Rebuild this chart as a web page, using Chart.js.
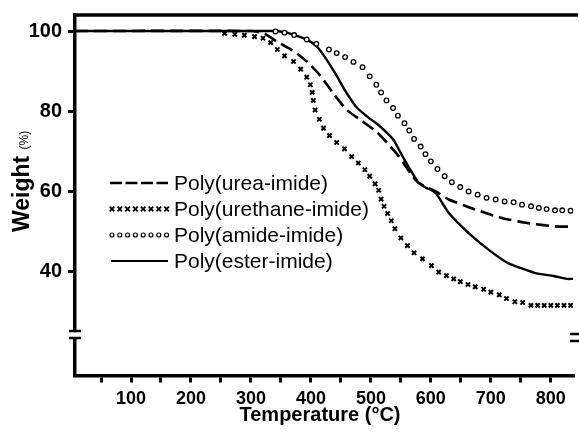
<!DOCTYPE html>
<html>
<head>
<meta charset="utf-8">
<script src="https://cdn.jsdelivr.net/npm/chart.js@4.4.1/dist/chart.umd.min.js"></script>
<style>
  html, body { margin: 0; padding: 0; background: #fff; overflow: hidden; }
  canvas { display: block; }
</style>
</head>
<body>
<canvas id="tga" width="579" height="433"></canvas>
<script>
// Series names (legend order)
const seriesNames = ['Poly(urea-imide)', 'Poly(urethane-imide)', 'Poly(amide-imide)', 'Poly(ester-imide)'];

// Poly(urea-imide) - dashed line
const ureaT = [7, 300, 322, 344, 372, 394, 416, 438, 460, 482, 509, 531, 547, 569, 580, 608, 630, 674, 718, 762, 806, 837];
const ureaW = [100, 100, 99.4, 97.3, 94.9, 92.3, 88.8, 84.3, 80.3, 77.9, 74.9, 71.5, 68.7, 63.9, 62.1, 60.0, 58.0, 55.5, 53.4, 52.1, 51.3, 51.2];

// Poly(urethane-imide) - crosses
const urethT = [256, 273, 289, 306, 320, 333, 344, 356, 371, 383, 393, 399, 402, 404, 407, 414, 421, 431, 443, 456, 468, 479, 490, 498, 507, 513, 517, 522, 528, 534, 540, 550, 561, 572, 586, 601, 613, 626, 638, 649, 662, 674, 688, 700, 714, 726, 740, 753, 767, 778, 789, 800, 811, 822, 833];
const urethW = [99.4, 99.2, 99.0, 98.6, 98.2, 97.1, 95.4, 93.8, 92.4, 90.5, 88.5, 86.6, 84.7, 82.7, 80.3, 78.0, 75.8, 73.9, 72.2, 70.6, 68.7, 67.1, 65.4, 63.8, 61.9, 60.3, 58.1, 56.3, 54.5, 52.7, 50.7, 48.4, 46.5, 44.7, 43.2, 41.5, 39.9, 39.0, 38.2, 37.5, 36.8, 36.2, 35.6, 34.9, 34.2, 33.3, 32.5, 32.3, 31.6, 31.6, 31.6, 31.6, 31.6, 31.6, 31.6];

// Poly(amide-imide) - circles
const amideT = [341, 356, 372, 393, 409, 430, 443, 457, 471, 486, 498, 509, 517, 526, 537, 545, 556, 564, 572, 583, 591, 600, 611, 623, 635, 649, 663, 678, 693, 708, 723, 738, 752, 767, 780, 793, 807, 819, 833];
const amideW = [99.9, 99.6, 99.0, 97.9, 96.8, 95.4, 94.5, 93.5, 92.3, 91.0, 88.7, 86.6, 84.7, 82.7, 80.8, 78.9, 77.0, 75.2, 73.1, 71.2, 69.3, 67.5, 65.6, 63.8, 62.3, 61.1, 60.0, 59.2, 58.4, 58.0, 57.5, 57.3, 56.7, 56.3, 55.9, 55.6, 55.3, 55.3, 55.2];

// Poly(ester-imide) - solid line
const esterT = [7, 340, 360, 372, 394, 410, 421, 432, 443, 454, 465, 476, 497, 509, 520, 537, 553, 569, 580, 591, 608, 630, 663, 696, 728, 773, 805, 827, 837];
const esterW = [100, 100, 99.6, 99.0, 97.8, 96.1, 94.0, 91.5, 88.8, 85.9, 83.3, 81.0, 78.3, 77.0, 75.6, 73.0, 68.7, 64.6, 62.1, 61.0, 59.6, 54.6, 49.6, 45.5, 42.2, 39.7, 38.9, 38.2, 38.2];

// Axis ticks
const xTicks = [50, 100, 150, 200, 250, 300, 350, 400, 450, 500, 550, 600, 650, 700, 750, 800];
const yTicks = [40, 60, 80, 100];

const pts = (xs, ys) => xs.map((x, i) => ({ x: x, y: ys[i] }));

const FONT = '"Liberation Sans", Arial, sans-serif';

// axes frame, break marks, titles and legend
const decorations = {
  id: 'decorations',
  afterDraw(chart) {
    const c = chart.ctx;
    const a = chart.chartArea;
    c.save();
    c.strokeStyle = '#000';
    c.fillStyle = '#000';

    // top border
    c.lineWidth = 3.5;
    c.beginPath();
    c.moveTo(a.left - 1.5, a.top);
    c.lineTo(a.right + 5, a.top);
    c.stroke();

    // axis break marks
    const drawBreak = (x, y) => {
      c.fillStyle = '#fff';
      c.fillRect(x - 3, y - 3, 6, 7);
      c.fillStyle = '#000';
      c.lineWidth = 2.5;
      c.beginPath();
      c.moveTo(x - 6, y - 3); c.lineTo(x + 6, y - 3);
      c.moveTo(x - 6, y + 4); c.lineTo(x + 6, y + 4);
      c.stroke();
    };
    drawBreak(a.left, 334);
    drawBreak(a.right + 3, 337);

    // x title
    c.font = 'bold 20px ' + FONT;
    c.textAlign = 'center';
    c.textBaseline = 'alphabetic';
    c.fillText('Temperature (°C)', 320, 421);

    // y title
    c.save();
    c.translate(28.5, 232);
    c.rotate(-Math.PI / 2);
    c.textAlign = 'left';
    c.font = 'bold 23px ' + FONT;
    c.fillText('Weight', 0, 0);
    const w = c.measureText('Weight ').width;
    c.font = '12px ' + FONT;
    c.fillText('(%)', w, -1);
    c.restore();

    // legend
    const rows = [183, 209, 235, 261];
    const x0 = 110, x1 = 168;
    c.font = '21px ' + FONT;
    c.textAlign = 'left';
    c.textBaseline = 'middle';
    rows.forEach((y, i) => {
      c.fillText(seriesNames[i], 174, y + 1);
    });

    // dashed
    c.lineWidth = 2.5;
    c.setLineDash([12, 3.5]);
    c.beginPath(); c.moveTo(x0, rows[0]); c.lineTo(x1, rows[0]); c.stroke();
    c.setLineDash([]);

    // crosses
    c.lineWidth = 1.8;
    for (let k = 0; k < 8; k++) {
      const px = 112 + k * 7.8, py = rows[1];
      c.beginPath();
      c.moveTo(px - 2.3, py - 2.3); c.lineTo(px + 2.3, py + 2.3);
      c.moveTo(px + 2.3, py - 2.3); c.lineTo(px - 2.3, py + 2.3);
      c.stroke();
    }

    // circles
    c.lineWidth = 1.2;
    for (let k = 0; k < 8; k++) {
      c.beginPath();
      c.arc(112 + k * 7.8, rows[2], 2, 0, Math.PI * 2);
      c.stroke();
    }

    // solid
    c.lineWidth = 2.2;
    c.beginPath(); c.moveTo(x0 + 1, rows[3]); c.lineTo(x1, rows[3]); c.stroke();

    c.restore();
  }
};

const data = {
  datasets: [
    {
      label: seriesNames[0],
      data: pts(ureaT, ureaW),
      showLine: true,
      borderColor: '#000',
      borderWidth: 2.6,
      borderDash: [13, 6],
      pointRadius: 0,
      tension: 0.2
    },
    {
      label: seriesNames[1],
      data: pts(urethT, urethW),
      showLine: false,
      pointStyle: 'crossRot',
      pointRadius: 3,
      borderColor: '#000',
      borderWidth: 2,
      backgroundColor: '#000'
    },
    {
      label: seriesNames[2],
      data: pts(amideT, amideW),
      showLine: false,
      pointStyle: 'circle',
      pointRadius: 2.3,
      borderColor: '#000',
      borderWidth: 1.3,
      backgroundColor: '#fff'
    },
    {
      label: seriesNames[3],
      data: pts(esterT, esterW),
      showLine: true,
      borderColor: '#000',
      borderWidth: 2.4,
      pointRadius: 0,
      tension: 0.2
    }
  ]
};

const tickGrid = {
  display: true,
  drawOnChartArea: false,
  drawTicks: true,
  tickLength: 7,
  lineWidth: 3,
  color: '#000'
};

const config = {
  type: 'scatter',
  data: data,
  options: {
    responsive: false,
    animation: false,
    devicePixelRatio: 1,
    layout: { padding: { top: 15, right: 0, left: 0, bottom: 0 } },
    plugins: {
      legend: { display: false },
      tooltip: { enabled: false }
    },
    scales: {
      x: {
        type: 'linear',
        min: 6.6,
        max: 837,
        afterBuildTicks: (s) => { s.ticks = xTicks.map(v => ({ value: v })); },
        afterFit: (s) => { s.height = 57.5; s.paddingLeft = 0; s.paddingRight = 0; },
        ticks: {
          autoSkip: false,
          maxRotation: 0,
          padding: 6,
          color: '#000',
          font: { family: FONT, size: 18, weight: 'bold' },
          callback: (v) => (v % 100 === 0 ? String(v) : '')
        },
        grid: tickGrid,
        border: { display: true, color: '#000', width: 3.5 }
      },
      y: {
        min: 14.1,
        max: 104,
        afterBuildTicks: (s) => { s.ticks = yTicks.map(v => ({ value: v })); },
        afterFit: (s) => { s.width = 75; s.paddingTop = 0; s.paddingBottom = 0; },
        ticks: {
          padding: 6,
          color: '#000',
          font: { family: FONT, size: 20, weight: 'bold' }
        },
        grid: tickGrid,
        border: { display: true, color: '#000', width: 3.5 }
      }
    }
  },
  plugins: [decorations]
};

new Chart(document.getElementById('tga'), config);
</script>
</body>
</html>
